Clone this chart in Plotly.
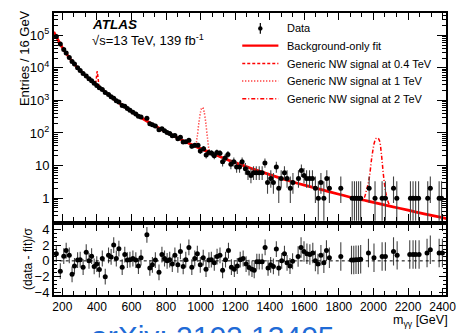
import plotly.graph_objects as go

W, H = 473, 333

# ---------------- data ----------------
fit_mass = [150, 200, 250, 300, 350, 400, 450, 500, 600, 700, 800, 900, 1000, 1100, 1200,
            1300, 1400, 1500, 1600, 1700, 1800, 1900, 2000, 2100, 2200, 2300, 2400, 2422]
fit_vals = [125900, 41700, 17400, 8510, 4790, 2880, 1780, 1070, 457, 214, 107, 57.5, 33.1,
            20.0, 12.3, 7.94, 5.25, 3.55, 2.51, 1.82, 1.32, 0.977, 0.741, 0.562, 0.427,
            0.324, 0.251, 0.237]

sig04_mass = [370, 385, 390, 394, 397, 399, 401, 403, 405, 408, 412, 418, 430]
sig04_vals = [3910, 3357, 3200, 3700, 5200, 7000, 7800, 7200, 5600, 3800, 2700, 2450, 2160]

sig1_mass = [950, 970, 980, 990, 1000, 1005, 1010, 1015, 1020, 1030, 1040, 1050, 1065]
sig1_vals = [43, 44, 77, 210, 457, 562, 601, 560, 453, 203, 67, 30.5, 23.5]

sig2_mass = [1900, 1940, 1960, 1975, 1990, 2005, 2015, 2025, 2035, 2045, 2060, 2075, 2095, 2120]
sig2_vals = [0.98, 0.93, 1.8, 4, 17, 50, 68, 70, 58, 25, 4, 1.2, 0.6, 0.52]

data_mass = [165, 188, 208, 222, 240, 256, 270, 288, 303, 320, 338, 354, 369, 384, 399, 414,
             431, 448, 467, 482, 497, 512, 527, 546, 561, 576, 591, 608, 625, 640, 655, 689,
             706, 721, 738, 759, 776, 791, 806, 821, 836, 851, 868, 883, 899, 914, 932, 949,
             966, 985, 998, 1017, 1032, 1048, 1064, 1079, 1094, 1112, 1127, 1142, 1158, 1175,
             1192, 1208, 1225, 1240, 1259, 1274, 1291, 1306, 1322, 1339, 1356, 1372, 1387,
             1406, 1421, 1438, 1452, 1466, 1485, 1500, 1519, 1534, 1566, 1583, 1598, 1613,
             1630, 1647, 1664, 1681, 1696, 1713, 1730, 1745, 1811, 1877, 1890, 1902, 1914,
             1926, 1975, 2009, 2050, 2069, 2116, 2135, 2214, 2229, 2244, 2261, 2314, 2329,
             2380, 2394]
data_counts = [90700, 54000, 36300, 28600, 20800, 15750, 12990, 10100, 8230, 6700, 5580, 4590,
               3980, 3350, 2890, 2460, 2150, 1735, 1520, 1300, 1170, 977, 896, 702, 657, 563,
               496, 436, 380, 325, 308, 282, 192, 178, 165, 125, 135, 117, 103, 96, 82, 84, 66,
               74, 53, 54, 60, 39, 42, 42, 28, 33, 21, 25, 24, 20, 25, 24, 13, 17, 22, 11, 13, 9,
               9, 13, 8, 6, 5, 6, 6, 6, 6, 12, 3, 4, 3, 9, 2, 4, 6, 4, 2, 3, 4, 7, 5, 4, 4, 4, 2,
               1, 3, 1, 4, 2, 2, 1, 1, 1, 1, 1, 2, 1, 1, 1, 2, 1, 1, 1, 1, 1, 1, 2, 1, 1]

pull_mass = [165, 188, 208, 222, 240, 256, 270, 288, 303, 320, 338, 354, 369, 384, 399, 414,
             431, 448, 467, 482, 497, 512, 527, 546, 561, 576, 591, 608, 625, 640, 655, 689,
             706, 721, 738, 759, 776, 791, 806, 821, 836, 851, 868, 883, 899, 914, 932, 949,
             966, 981, 998, 1015, 1031, 1048, 1062, 1079, 1095, 1112, 1127, 1144, 1161, 1178,
             1195, 1212, 1229, 1246, 1263, 1280, 1297, 1310, 1325, 1339, 1356, 1373, 1390,
             1405, 1421, 1438, 1452, 1469, 1485, 1500, 1517, 1532, 1564, 1581, 1598, 1615,
             1632, 1649, 1664, 1679, 1696, 1713, 1728, 1745, 1811, 1873, 1886, 1899, 1913,
             1926, 1971, 2003, 2050, 2069, 2116, 2137, 2210, 2229, 2244, 2264, 2310, 2329,
             2380, 2399]
pull_vals = [0.9, -1.3, 0.6, 1.3, 0.7, -1.7, -0.65, 0.1, 0.15, -0.8, 1.1, 0.0, 0.6, -0.7, -0.4,
             -1.1, 0.3, -2.0, 0.7, 0.5, 2.0, 0.3, 1.55, -0.8, 0.8, 0.1, 0.15, 0.3, 0.1, -0.65,
             0.4, 3.3, -0.9, -0.5, 0.1, -1.45, 0.8, 0.3, 0.0, 0.15, -0.4, 0.7, -0.5, 1.2, -0.7,
             0.15, 1.7, -0.8, 0.3, 0.9, -0.5, 0.4, -1.05, 0.1, 0.15, -0.25, 0.55, 0.7, -1.2,
             0.15, 1.3, -0.8, -1.05, -0.65, 0.15, 0.3, -0.4, -0.85, -1.05, -1.2, -0.1, -0.1,
             -0.1, 1.7, -0.9, -0.5, -0.7, 1.5, -0.9, 0.0, 0.9, -0.25, -0.65, -0.05, 0.55, 1.7,
             1.2, 0.9, 0.8, 1.0, 0.0, -0.4, 0.7, -0.25, 1.3, 0.4, 0.55, 0.1, 0.1, 0.15, 0.15,
             0.2, 1.0, 0.4, 0.55, 0.55, 1.2, 0.7, 0.8, 0.8, 0.8, 0.8, 1.0, 1.4, 1.0, 1.0]
pull_err = [1.0] * 84 + [1.3] * 12 + [1.8] * 22

y_ticks = [1, 10, 100, 1000, 10000, 100000]
y_ticktext = ["1", "10", "10<sup>2</sup>", "10<sup>3</sup>", "10<sup>4</sup>", "10<sup>5</sup>"]
r_ticks = [-4, -2, 0, 2, 4]
r_ticktext = ["\u22124", "\u22122", "0", "2", "4"]

# ---------------- poisson-like error bars on data ----------------
def poisson_err(n):
    up = (n + 0.75) ** 0.5 + 1.0
    lo = n - n * (1 - 1 / (9 * n) - 1 / (3 * n ** 0.5)) ** 3
    return up, lo

err_up = [poisson_err(n)[0] for n in data_counts]
err_lo = [poisson_err(n)[1] for n in data_counts]

FONT = "Liberation Sans, Arial, sans-serif"
def px(x):
    return x / W
def py(y):
    return 1 - y / H

X0, X1 = 54, 456
RED = "#ff0000"
fig = go.Figure()

fig.add_trace(go.Scatter(x=sig04_mass, y=sig04_vals, mode="lines",
                         line=dict(color=RED, width=1.5, dash="3px,2px"), xaxis="x", yaxis="y"))
fig.add_trace(go.Scatter(x=sig1_mass, y=sig1_vals, mode="lines", line_shape="spline",
                         line=dict(color=RED, width=1.5, dash="1px,2px"), xaxis="x", yaxis="y"))
fig.add_trace(go.Scatter(x=sig2_mass, y=sig2_vals, mode="lines", line_shape="spline",
                         line=dict(color=RED, width=1.5, dash="4px,2px,1px,2px"),
                         xaxis="x", yaxis="y"))
fig.add_trace(go.Scatter(x=fit_mass, y=fit_vals, mode="lines", line_shape="spline",
                         line=dict(color=RED, width=2.8), xaxis="x", yaxis="y"))
fig.add_trace(go.Scatter(x=data_mass, y=data_counts, mode="markers",
                         marker=dict(color="black", size=5),
                         error_y=dict(type="data", array=err_up, arrayminus=err_lo,
                                      color="#444444", thickness=1.1, width=0),
                         xaxis="x", yaxis="y"))
fig.add_trace(go.Scatter(x=pull_mass, y=pull_vals, mode="markers",
                         marker=dict(color="black", size=5),
                         error_y=dict(type="data", array=pull_err,
                                      color="#444444", thickness=1.1, width=0),
                         xaxis="x2", yaxis="y2"))

minor_log = []
for d in [0.1, 1, 10, 100, 1000, 10000, 100000]:
    for k in range(2, 10):
        minor_log.append(d * k)

axis_common = dict(showline=True, linecolor="black", linewidth=1.5, mirror="allticks",
                   ticks="inside", tickcolor="black", showgrid=False, zeroline=False)

fig.update_layout(
    width=W, height=H, margin=dict(l=0, r=0, t=0, b=0),
    paper_bgcolor="white", plot_bgcolor="white", showlegend=False,
    font=dict(family=FONT, color="black", size=12),
    xaxis=dict(domain=[px(X0), px(X1)], range=[150, 2422], anchor="y",
               showticklabels=False, tick0=200, dtick=200, ticklen=7,
               minor=dict(ticks="inside", dtick=200 / 3, tick0=200, ticklen=4, tickcolor="black"),
               **axis_common),
    yaxis=dict(domain=[py(223), py(10)], type="log", range=[-0.69, 5.69], anchor="x",
               tickmode="array", tickvals=y_ticks, ticktext=y_ticktext, ticklen=10,
               tickfont=dict(size=13),
               minor=dict(ticks="inside", tickmode="array", tickvals=minor_log, ticklen=5,
                          tickcolor="black"),
               **axis_common),
    xaxis2=dict(domain=[px(X0), px(X1)], range=[150, 2422], anchor="y2",
                tick0=200, dtick=200, ticklen=7, tickfont=dict(size=12),
                minor=dict(ticks="inside", dtick=200 / 3, tick0=200, ticklen=4, tickcolor="black"),
                **axis_common),
    yaxis2=dict(domain=[py(299), py(227)], range=[-4.3, 4.6], anchor="x2",
                tickmode="array", tickvals=r_ticks, ticktext=r_ticktext, ticklen=8,
                tickfont=dict(size=13),
                minor=dict(ticks="inside", dtick=0.5, tick0=0, ticklen=4, tickcolor="black"),
                **axis_common),
)

# dashed zero line in ratio panel
fig.add_shape(type="line", xref="x2", yref="y2", x0=150, x1=2422, y0=0, y1=0,
              line=dict(color="black", width=1, dash="3px,3px"))

# legend drawn by hand
leg_x0, leg_x1 = 247, 284
fig.add_shape(type="line", xref="paper", yref="paper", x0=px(265.5), x1=px(265.5),
              y0=py(20.5), y1=py(31.5), line=dict(color="black", width=1.2))
fig.add_shape(type="circle", xref="paper", yref="paper", x0=px(263.2), x1=px(267.8),
              y0=py(28.3), y1=py(23.7), fillcolor="black", line=dict(color="black", width=0))
fig.add_shape(type="line", xref="paper", yref="paper", x0=px(leg_x0), x1=px(leg_x1),
              y0=py(43.7), y1=py(43.7), line=dict(color=RED, width=2.2))
fig.add_shape(type="line", xref="paper", yref="paper", x0=px(leg_x0), x1=px(leg_x1),
              y0=py(62), y1=py(62), line=dict(color=RED, width=1.5, dash="3px,2px"))
fig.add_shape(type="line", xref="paper", yref="paper", x0=px(leg_x0), x1=px(leg_x1),
              y0=py(80), y1=py(80), line=dict(color=RED, width=1.5, dash="1px,2px"))
fig.add_shape(type="line", xref="paper", yref="paper", x0=px(leg_x0), x1=px(leg_x1),
              y0=py(98), y1=py(98), line=dict(color=RED, width=1.5, dash="4px,2px,1px,2px"))

leg_texts = ["Data", "Background-only fit", "Generic NW signal at 0.4 TeV",
             "Generic NW signal at 1 TeV", "Generic NW signal at 2 TeV"]
leg_ys = [26, 43.7, 62, 80, 98]
for t, yy in zip(leg_texts, leg_ys):
    fig.add_annotation(x=px(292), y=py(yy), xref="paper", yref="paper", text=t,
                       showarrow=False, xanchor="left", yanchor="middle",
                       font=dict(size=11, family=FONT), borderpad=0)

fig.add_annotation(x=px(92), y=py(22), xref="paper", yref="paper",
                   text="<b><i>ATLAS</i></b>", showarrow=False, xanchor="left",
                   yanchor="middle", font=dict(size=13.5, family=FONT), borderpad=0)
fig.add_annotation(x=px(92), y=py(37.5), xref="paper", yref="paper",
                   text="\u221As=13 TeV, 139 fb<sup>-1</sup>", showarrow=False,
                   xanchor="left", yanchor="middle", font=dict(size=13, family=FONT), borderpad=0)

fig.add_annotation(x=px(24), y=py(56), xref="paper", yref="paper", text="Entries / 16 GeV",
                   textangle=-90, showarrow=False, xanchor="center", yanchor="middle",
                   font=dict(size=13, family=FONT), borderpad=0)
fig.add_annotation(x=px(27), y=py(262), xref="paper", yref="paper", text="(data - fit)/\u03c3",
                   textangle=-90, showarrow=False, xanchor="center", yanchor="middle",
                   font=dict(size=12, family=FONT), borderpad=0)
fig.add_annotation(x=px(459), y=py(326), xref="paper", yref="paper",
                   text="m<sub>\u03b3\u03b3</sub> [GeV]", showarrow=False, xanchor="right",
                   yanchor="middle", font=dict(size=12.5, family=FONT), borderpad=0)
fig.add_annotation(x=px(91), y=py(324), xref="paper", yref="paper",
                   text="arXiv: 2102.13405", showarrow=False, xanchor="left", yanchor="top",
                   font=dict(size=30, family=FONT, color="#1f6bd6"), borderpad=0)

fig.write_html("out.html")
